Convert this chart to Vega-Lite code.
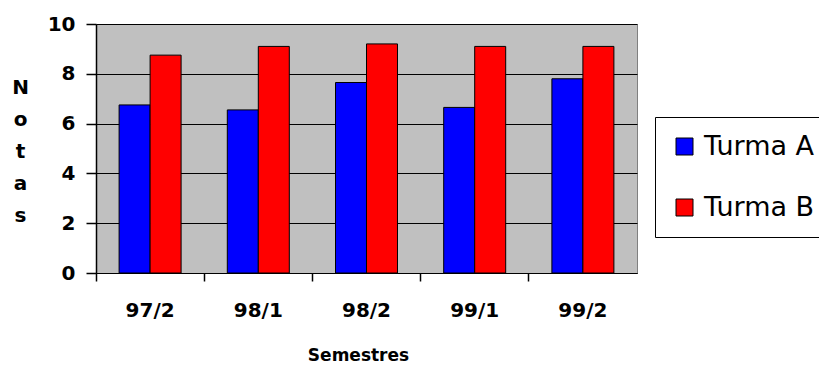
{
  "$schema": "https://vega.github.io/schema/vega-lite/v6.json",
  "width": 541,
  "height": 249,
  "autosize": {"type": "none"},
  "padding": {"left": 96, "top": 24, "right": 182, "bottom": 92},
  "background": "white",
  "config": {
    "view": {"fill": "#C0C0C0", "stroke": "#808080", "strokeWidth": 1},
    "font": "DejaVu Sans"
  },
  "data": {
    "values": [
      {"Semestre": "97/2", "Turma": "Turma A", "Nota": 6.75},
      {"Semestre": "97/2", "Turma": "Turma B", "Nota": 8.75},
      {"Semestre": "98/1", "Turma": "Turma A", "Nota": 6.55},
      {"Semestre": "98/1", "Turma": "Turma B", "Nota": 9.1},
      {"Semestre": "98/2", "Turma": "Turma A", "Nota": 7.65},
      {"Semestre": "98/2", "Turma": "Turma B", "Nota": 9.2},
      {"Semestre": "99/1", "Turma": "Turma A", "Nota": 6.65},
      {"Semestre": "99/1", "Turma": "Turma B", "Nota": 9.1},
      {"Semestre": "99/2", "Turma": "Turma A", "Nota": 7.8},
      {"Semestre": "99/2", "Turma": "Turma B", "Nota": 9.1}
    ]
  },
  "mark": {"type": "bar", "stroke": "black", "strokeWidth": 1},
  "encoding": {
    "x": {
      "field": "Semestre", "type": "nominal", "sort": null,
      "scale": {"paddingInner": 0.427, "paddingOuter": 0.2135},
      "axis": {
        "orient": "bottom",
        "title": "Semestres",
        "labelAngle": 0,
        "bandPosition": -0.3726,
        "ticks": true,
        "tickSize": 8,
        "tickColor": "black",
        "tickWidth": 1.5,
        "domain": true,
        "domainColor": "black",
        "domainWidth": 1,
        "grid": false,
        "labelFont": "DejaVu Sans",
        "labelFontWeight": "bold",
        "labelFontSize": 20,
        "labelColor": "black",
        "labelPadding": 19,
        "titleFont": "DejaVu Sans",
        "titleFontWeight": "bold",
        "titleFontSize": 17,
        "titleColor": "black",
        "titleX": 262,
        "titleY": 87,
        "titleBaseline": "alphabetic",
        "titleAlign": "center"
      }
    },
    "xOffset": {"field": "Turma", "type": "nominal", "scale": {"paddingInner": 0}},
    "y": {
      "field": "Nota", "type": "quantitative",
      "scale": {"domain": [0, 10], "nice": false},
      "axis": {
        "values": [0, 2, 4, 6, 8, 10],
        "grid": true,
        "gridColor": "black",
        "gridOpacity": 1,
        "gridWidth": 1,
        "domainColor": "black",
        "domainWidth": 1.5,
        "tickColor": "black",
        "tickWidth": 1.5,
        "tickSize": 10,
        "labelFont": "DejaVu Sans",
        "labelFontWeight": "bold",
        "labelFontSize": 20,
        "labelColor": "black",
        "labelPadding": 11,
        "title": ["N", "o", "t", "a", "s"],
        "titleAngle": 0,
        "titleFont": "DejaVu Sans",
        "titleFontWeight": "bold",
        "titleFontSize": 20,
        "titleColor": "black",
        "titleLineHeight": 32,
        "titleAlign": "center",
        "titleBaseline": "alphabetic",
        "titleX": -76,
        "titleY": 69
      }
    },
    "color": {
      "field": "Turma", "type": "nominal",
      "scale": {"domain": ["Turma A", "Turma B"], "range": ["#0000FF", "#FF0000"]},
      "legend": {
        "orient": "none",
        "legendX": 559,
        "legendY": 93,
        "title": null,
        "padding": 16,
        "strokeColor": "black",
        "fillColor": "white",
        "labelFont": "DejaVu Sans",
        "labelFontSize": 27,
        "labelColor": "black",
        "labelOffset": 6,
        "labelLimit": 400,
        "rowPadding": 33,
        "symbolType": "square",
        "symbolSize": 289,
        "symbolStrokeColor": "black",
        "symbolStrokeWidth": 1,
        "symbolOpacity": 1
      }
    }
  }
}
